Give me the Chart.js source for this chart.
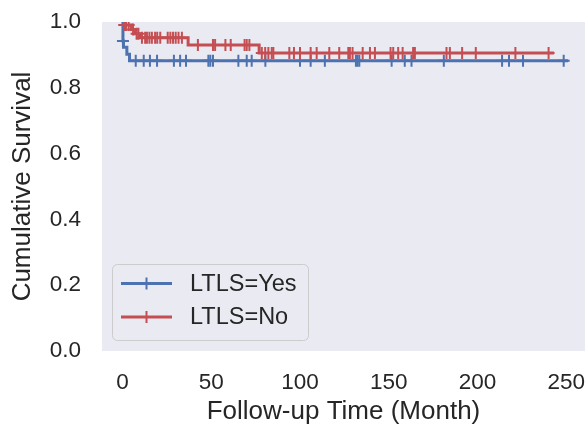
<!DOCTYPE html>
<html lang="en">
<head>
<meta charset="UTF-8">
<title>Cumulative Survival by LTLS</title>
<script src="https://cdn.jsdelivr.net/npm/chart.js"></script>
<style>
  html, body { margin: 0; padding: 0; background: #fff; }
  #wrap { width: 587px; height: 427px; }
</style>
</head>
<body>
<div id="wrap"><canvas id="chart"></canvas></div>
<script>
const seriesLabels = ['LTLS=Yes', 'LTLS=No'];
const seriesColors = ['#4c72b0', '#c44e52'];
const xTicks = [0, 50, 100, 150, 200, 250];
const yTicks = [0, 0.2, 0.4, 0.6, 0.8, 1.0];

// survival curve steps (month, survival)
const yesTimes = [0, 0.3, 0.6, 2.5, 4, 251];
const yesSurv = [1.0, 0.942, 0.923, 0.902, 0.882, 0.882];
const noTimes = [0, 5, 7, 10, 37, 77, 243];
const noSurv = [0.991, 0.977, 0.964, 0.952, 0.930, 0.906, 0.906];

// censored follow-up times (months)
const yesCensored = [0.3, 7.5, 12, 15.5, 19.5, 29, 32.5, 35.8, 48.4, 49.5, 51, 65.3, 70, 72.8, 80.5,
  100, 106, 114, 131.5, 132.4, 133.4, 151.6, 159, 162.8, 181, 213.8, 217.7, 225.6, 248.5];
const noCensored = [1, 2, 3.5, 6, 8, 9, 11, 12.8, 13.8, 15.2, 16.6, 18.4, 19.6, 21.3, 25.5, 27, 28.5, 30,
  31.6, 33.5, 42.5, 51, 52.2, 58, 61, 68.8, 70, 71.5, 78.5, 80.4, 82.2, 84.1, 85, 94, 96.6, 100, 106,
  109.4, 116.5, 122.1, 127.2, 128.1, 129.6, 135.3, 139.4, 142.2, 151, 152.5, 155.3, 157.8, 163.7,
  164.7, 182.5, 184.4, 191.3, 199, 221.3, 240];

const textColor = '#262626';
const fontFamily = '"Liberation Sans", Arial, sans-serif';

// value of the step curve at time t
function survAt(times, surv, t) {
  let s = surv[0];
  for (let i = 0; i < times.length; i++) {
    if (times[i] <= t) s = surv[i];
  }
  return s;
}

function curve(times, surv) {
  return times.map((t, i) => ({ x: t, y: surv[i] }));
}

function censorPoints(cens, times, surv) {
  return cens.map(t => ({ x: t, y: survAt(times, surv, t) }));
}

// fixed axis box, no extra room for overhanging labels
function fixBox(size, key) {
  return s => {
    s[key] = size;
    s.paddingTop = s.paddingBottom = s.paddingLeft = s.paddingRight = 0;
  };
}

const plotBg = {
  id: 'plotBg',
  beforeDraw(chart) {
    const { ctx, chartArea: a } = chart;
    ctx.save();
    ctx.fillStyle = '#eaeaf2';
    ctx.fillRect(a.left, a.top, a.right - a.left, a.bottom - a.top);
    ctx.restore();
  }
};

// legend drawn inside the plot, lower left
const insideLegend = {
  id: 'insideLegend',
  afterDraw(chart) {
    const { ctx, chartArea: a } = chart;
    const x0 = a.left + 10, y0 = a.bottom - 87, w = 196, h = 76;
    ctx.save();
    ctx.beginPath();
    ctx.roundRect(x0 + 0.5, y0 + 0.5, w, h, 5);
    ctx.fillStyle = 'rgba(234,234,242,0.8)';
    ctx.fill();
    ctx.strokeStyle = '#cccccc';
    ctx.lineWidth = 1;
    ctx.stroke();
    seriesLabels.forEach((lab, i) => {
      const y = y0 + 19.5 + i * 33.5;
      ctx.strokeStyle = seriesColors[i];
      ctx.lineWidth = 3;
      ctx.beginPath();
      ctx.moveTo(x0 + 9, y);
      ctx.lineTo(x0 + 60, y);
      ctx.stroke();
      ctx.lineWidth = 2;
      ctx.beginPath();
      ctx.moveTo(x0 + 34.5, y - 6);
      ctx.lineTo(x0 + 34.5, y + 6);
      ctx.stroke();
      ctx.fillStyle = textColor;
      ctx.font = '23.5px ' + fontFamily;
      ctx.textBaseline = 'middle';
      ctx.fillText(lab, x0 + 78, y + 1);
    });
    ctx.restore();
  }
};

new Chart(document.getElementById('chart'), {
  type: 'line',
  data: {
    datasets: [
      {
        label: seriesLabels[0],
        data: curve(yesTimes, yesSurv),
        stepped: true,
        borderColor: seriesColors[0],
        borderWidth: 3,
        pointRadius: 0,
        fill: false,
        order: 3
      },
      {
        label: seriesLabels[0] + ' censored',
        data: censorPoints(yesCensored, yesTimes, yesSurv),
        showLine: false,
        pointStyle: 'cross',
        pointRadius: 6,
        pointBorderWidth: 2,
        pointBorderColor: seriesColors[0],
        order: 2
      },
      {
        label: seriesLabels[1],
        data: curve(noTimes, noSurv),
        stepped: true,
        borderColor: seriesColors[1],
        borderWidth: 3,
        pointRadius: 0,
        fill: false,
        order: 1
      },
      {
        label: seriesLabels[1] + ' censored',
        data: censorPoints(noCensored, noTimes, noSurv),
        showLine: false,
        pointStyle: 'cross',
        pointRadius: 6,
        pointBorderWidth: 2,
        pointBorderColor: seriesColors[1],
        order: 0
      }
    ]
  },
  options: {
    responsive: true,
    maintainAspectRatio: false,
    animation: false,
    events: [],
    layout: { autoPadding: false, padding: { top: 22, right: 2, left: 0, bottom: 0 } },
    plugins: { legend: { display: false }, tooltip: { enabled: false } },
    scales: {
      x: {
        type: 'linear',
        min: -11.5,
        max: 260.5,
        grid: { display: false, drawTicks: false },
        border: { display: false },
        afterBuildTicks: s => { s.ticks = xTicks.map(v => ({ value: v })); },
        afterFit: fixBox(76, 'height'),
        ticks: {
          color: textColor,
          padding: 18,
          font: { family: fontFamily, size: 22.5 },
          maxRotation: 0
        },
        title: {
          display: true,
          text: 'Follow-up Time (Month)',
          color: textColor,
          font: { family: fontFamily, size: 26 },
          padding: { top: 0, bottom: 0 }
        }
      },
      y: {
        type: 'linear',
        min: 0,
        max: 1,
        grid: { display: false, drawTicks: false },
        border: { display: false },
        afterBuildTicks: s => { s.ticks = yTicks.map(v => ({ value: v })); },
        afterFit: fixBox(102, 'width'),
        ticks: {
          color: textColor,
          padding: 21,
          font: { family: fontFamily, size: 22.5 },
          callback: v => v.toFixed(1)
        },
        title: {
          display: true,
          text: 'Cumulative Survival',
          color: textColor,
          font: { family: fontFamily, size: 26 },
          padding: { top: 7, bottom: 0 }
        }
      }
    }
  },
  plugins: [plotBg, insideLegend]
});
</script>
</body>
</html>
